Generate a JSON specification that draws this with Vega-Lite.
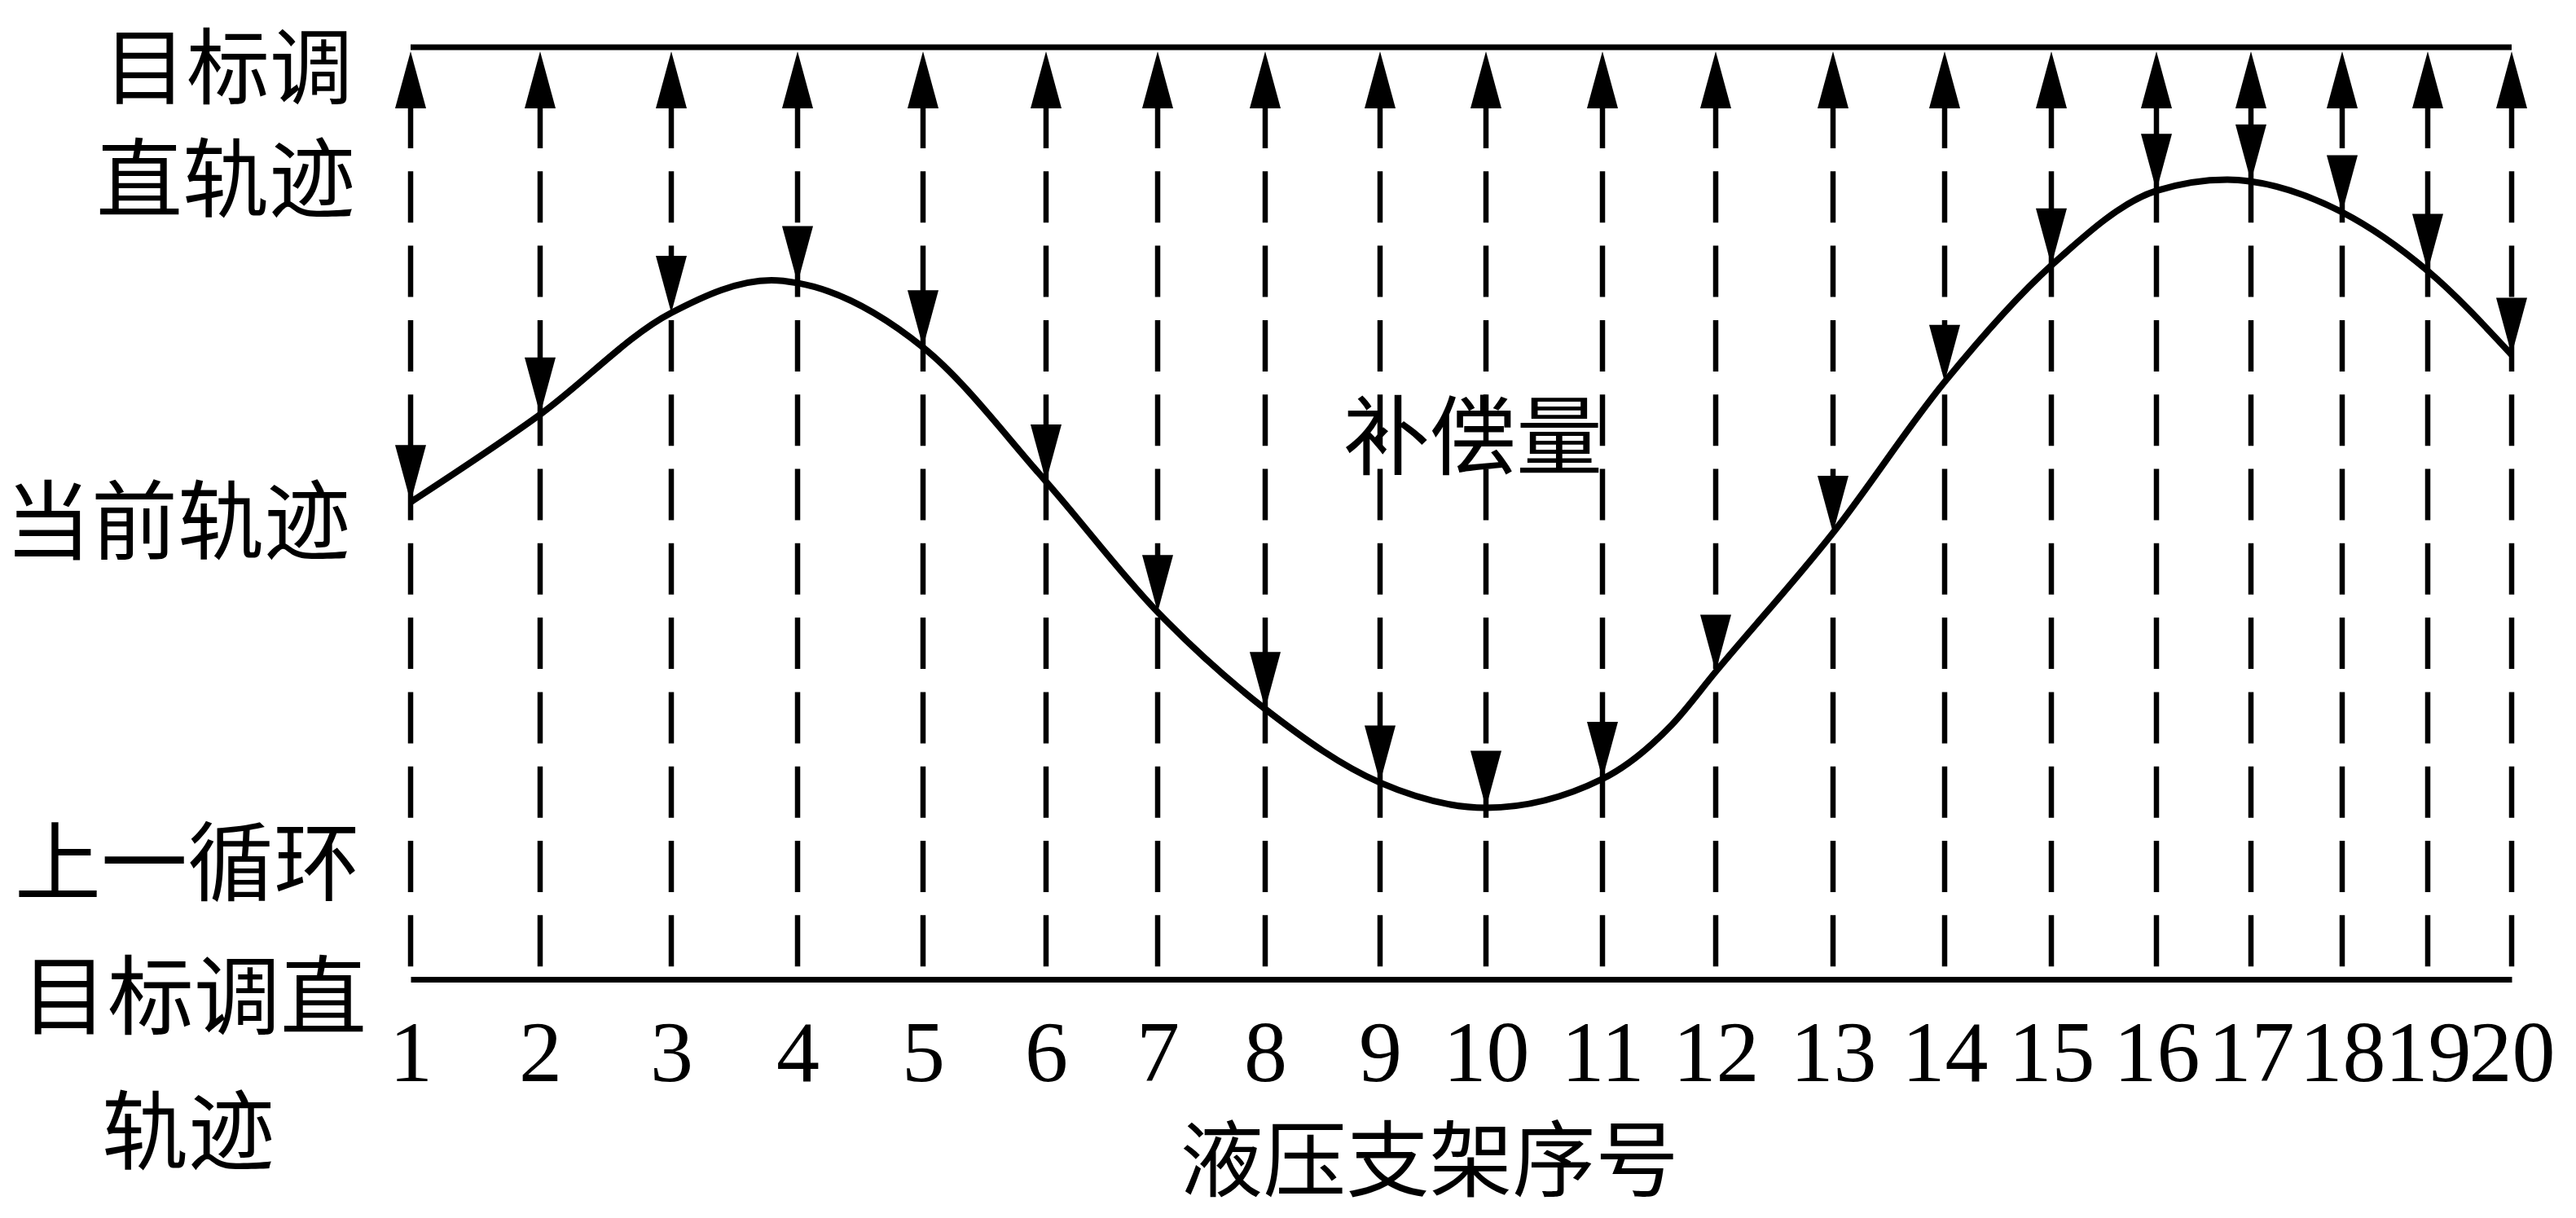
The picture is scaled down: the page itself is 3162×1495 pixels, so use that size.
{
  "$schema": "https://vega.github.io/schema/vega-lite/v6.json",
  "width": 2579,
  "height": 1144,
  "autosize": "none",
  "padding": {"left": 504, "top": 58, "right": 79, "bottom": 293},
  "background": "white",
  "config": {"view": {"stroke": null}},
  "datasets": {
    "supports": [
      {"support": 1, "pos": 0, "current": 51.2},
      {"support": 2, "pos": 1.59, "current": 60.6},
      {"support": 3, "pos": 3.2, "current": 71.5},
      {"support": 4, "pos": 4.75, "current": 74.7},
      {"support": 5, "pos": 6.29, "current": 67.8},
      {"support": 6, "pos": 7.8, "current": 53.4},
      {"support": 7, "pos": 9.17, "current": 39.4},
      {"support": 8, "pos": 10.49, "current": 29.0},
      {"support": 9, "pos": 11.9, "current": 21.1},
      {"support": 10, "pos": 13.2, "current": 18.4},
      {"support": 11, "pos": 14.63, "current": 21.5},
      {"support": 12, "pos": 16.02, "current": 33.0},
      {"support": 13, "pos": 17.46, "current": 47.9},
      {"support": 14, "pos": 18.83, "current": 64.1},
      {"support": 15, "pos": 20.14, "current": 76.6},
      {"support": 16, "pos": 21.43, "current": 84.6},
      {"support": 17, "pos": 22.59, "current": 85.6},
      {"support": 18, "pos": 23.71, "current": 82.3},
      {"support": 19, "pos": 24.76, "current": 76.0},
      {"support": 20, "pos": 25.79, "current": 67.0}
    ],
    "curve": [
      {"pos": 0, "current": 51.2},
      {"pos": 1.59, "current": 60.6},
      {"pos": 3.2, "current": 71.5},
      {"pos": 4.43, "current": 75.0},
      {"pos": 4.75, "current": 74.7},
      {"pos": 6.29, "current": 67.8},
      {"pos": 7.8, "current": 53.4},
      {"pos": 9.17, "current": 39.4},
      {"pos": 10.49, "current": 29.0},
      {"pos": 11.9, "current": 21.1},
      {"pos": 13.2, "current": 18.4},
      {"pos": 14.63, "current": 21.5},
      {"pos": 15.48, "current": 27.3},
      {"pos": 16.02, "current": 33.0},
      {"pos": 17.46, "current": 47.9},
      {"pos": 18.83, "current": 64.1},
      {"pos": 20.14, "current": 76.6},
      {"pos": 21.43, "current": 84.6},
      {"pos": 22.3, "current": 85.8},
      {"pos": 22.59, "current": 85.6},
      {"pos": 23.71, "current": 82.3},
      {"pos": 24.76, "current": 76.0},
      {"pos": 25.79, "current": 67.0}
    ],
    "labels": [
      {"text": "目标调", "x": -2.24, "y": 94.58},
      {"text": "直轨迹", "x": -2.27, "y": 82.52},
      {"text": "当前轨迹", "x": -2.86, "y": 45.8},
      {"text": "上一循环", "x": -2.74, "y": 9.18},
      {"text": "目标调直", "x": -2.66, "y": -5.16},
      {"text": "轨迹", "x": -2.73, "y": -19.67},
      {"text": "补偿量", "x": 13.04, "y": 54.9}
    ]
  },
  "layer": [
    {
      "data": {"name": "supports"},
      "mark": {"type": "rule", "color": "black", "strokeWidth": 6.5, "strokeDash": [63, 28.3]},
      "encoding": {
        "x": {
          "field": "pos",
          "type": "quantitative",
          "scale": {"domain": [0, 25.79], "nice": false, "zero": false},
          "axis": {
            "values": [0, 1.59, 3.2, 4.75, 6.29, 7.8, 9.17, 10.49, 11.9, 13.2, 14.63, 16.02, 17.46, 18.83, 20.14, 21.43, 22.59, 23.71, 24.76, 25.79],
            "labelExpr": "indexof([0, 1.59, 3.2, 4.75, 6.29, 7.8, 9.17, 10.49, 11.9, 13.2, 14.63, 16.02, 17.46, 18.83, 20.14, 21.43, 22.59, 23.71, 24.76, 25.79], datum.value) + 1",
            "title": "液压支架序号",
            "titleFont": "Noto Sans CJK SC",
            "titleFontSize": 102,
            "titleFontWeight": "normal",
            "titleColor": "black",
            "titleX": 1250,
            "titleY": 258,
            "titleAlign": "center",
            "titleBaseline": "alphabetic",
            "domainColor": "black",
            "domainWidth": 7,
            "ticks": false,
            "tickSize": 0,
            "grid": false,
            "labelFont": "Liberation Serif",
            "labelFontSize": 106,
            "labelColor": "black",
            "labelPadding": 124,
            "labelBaseline": "alphabetic",
            "labelFlush": false,
            "labelOverlap": false,
            "labelBound": false
          }
        },
        "y": {"datum": 94.67, "type": "quantitative", "scale": {"domain": [0, 100], "nice": false, "zero": false}, "axis": null},
        "y2": {"datum": 0}
      }
    },
    {
      "data": {"values": [{"level": 100}]},
      "mark": {"type": "rule", "color": "black", "strokeWidth": 7},
      "encoding": {
        "x": {"datum": 0, "type": "quantitative"},
        "x2": {"datum": 25.79},
        "y": {"field": "level", "type": "quantitative"}
      }
    },
    {
      "data": {"name": "curve"},
      "mark": {"type": "line", "color": "black", "strokeWidth": 8, "interpolate": "monotone"},
      "encoding": {
        "x": {"field": "pos", "type": "quantitative"},
        "y": {"field": "current", "type": "quantitative"}
      }
    },
    {
      "data": {"name": "supports"},
      "mark": {"type": "point", "filled": true, "color": "black", "opacity": 1, "strokeWidth": 0, "size": 4900, "shape": "M -0.543 2 L 0 0 L 0.543 2 Z"},
      "encoding": {
        "x": {"field": "pos", "type": "quantitative"},
        "y": {"datum": 99.56, "type": "quantitative"}
      }
    },
    {
      "data": {"name": "supports"},
      "mark": {"type": "point", "filled": true, "color": "black", "opacity": 1, "strokeWidth": 0, "size": 4900, "shape": "M -0.543 -2 L 0 0 L 0.543 -2 Z"},
      "encoding": {
        "x": {"field": "pos", "type": "quantitative"},
        "y": {"field": "current", "type": "quantitative"}
      }
    },
    {
      "data": {"name": "labels"},
      "transform": [{"filter": "datum.text !== '目标调'"}],
      "mark": {"type": "text", "font": "Noto Sans CJK SC", "fontSize": 106, "color": "black", "align": "center", "baseline": "alphabetic"},
      "encoding": {
        "x": {"field": "x", "type": "quantitative"},
        "y": {"field": "y", "type": "quantitative"},
        "text": {"field": "text"}
      }
    },
    {
      "data": {"name": "labels"},
      "transform": [{"filter": "datum.text === '目标调'"}],
      "mark": {"type": "text", "font": "Noto Sans CJK SC", "fontSize": 102, "color": "black", "align": "center", "baseline": "alphabetic"},
      "encoding": {
        "x": {"field": "x", "type": "quantitative"},
        "y": {"field": "y", "type": "quantitative"},
        "text": {"field": "text"}
      }
    }
  ]
}
